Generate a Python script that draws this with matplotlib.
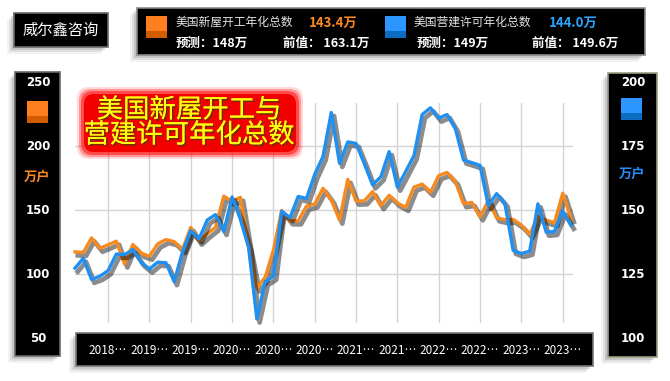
import matplotlib
matplotlib.use("Agg")
import matplotlib.pyplot as plt
import matplotlib.patheffects as pe
import pandas as pd
from matplotlib import transforms
from matplotlib.patches import Rectangle, FancyBboxPatch

plt.rcParams['font.family'] = ['Noto Sans CJK SC', 'DejaVu Sans']

# release month of each print, Jul 2018 .. Jul 2023
release = [str(p) for p in pd.period_range("2018-07", "2023-07", freq="M")]

# housing starts, annualised, 10k units (left axis)
starts = [117.3, 116.8, 128.2, 120.1, 122.8, 125.6, 107.8,
          123.0, 116.2, 113.9, 123.5, 126.9, 125.3, 119.1, 136.4, 125.6, 131.4, 136.5, 160.8,
          156.7, 159.9, 121.6, 89.1, 97.4, 118.6, 149.6, 141.6, 141.5, 153.0, 154.7, 166.9,
          158.0, 142.1, 173.9, 156.9, 157.2, 164.3, 153.4, 161.5, 155.5, 152.0, 167.9, 170.2,
          163.8, 176.9, 179.3, 172.4, 154.9, 155.9, 144.6, 157.5, 143.9, 142.5, 142.7, 138.2,
          130.9, 145.0, 142.0, 140.1, 163.1, 143.4]
# building permits, annualised, 10k units (right axis)
permits = [127.3, 131.1, 122.9, 124.1, 126.3, 132.8, 132.6,
           134.5, 129.6, 126.9, 129.6, 129.4, 122.0, 133.6, 141.9, 138.7, 146.1, 148.2, 141.6,
           155.1, 146.4, 135.3, 107.4, 122.0, 124.1, 149.5, 147.0, 155.3, 154.5, 163.9, 170.9,
           188.1, 168.2, 176.6, 176.0, 168.1, 159.8, 163.0, 172.8, 158.9, 165.0, 171.2, 187.3,
           189.9, 185.9, 187.3, 181.9, 169.5, 168.5, 167.4, 151.7, 156.4, 152.6, 134.2, 133.0,
           133.9, 152.4, 141.3, 141.6, 149.6, 144.0]

left_ticks = [250, 200, 150, 100, 50]
right_ticks = [200, 175, 150, 125, 100]
label_idx = list(range(4, 60, 5))

ORANGE = '#f68a1e'
BLUE = '#1f8ff0'

W, H = 670, 381
fig = plt.figure(figsize=(W / 100, H / 100), dpi=100)
fig.patch.set_facecolor('white')

# plot box in pixels
L, R, T, B = 75, 573, 103, 323
ppu = (338 - 82) / 200.0  # left axis px per unit
step = (571 - L) / (len(starts) - 1)

ax = fig.add_axes([L / W, 1 - B / H, (R - L) / W, (B - T) / H])
ax.set_xlim(0, (R - L) / step)
ax.set_ylim(50 + (338 - B) / ppu, 250 - (T - 82) / ppu)
ax2 = ax.twinx()
ax2.set_ylim(100 + (338 - B) / (2 * ppu), 200 - (T - 82) / (2 * ppu))

ax.set_yticks([100, 150, 200])
ax.set_xticks(label_idx)
ax.grid(True, color='#d4d4d4', lw=1)
for a in (ax, ax2):
    a.tick_params(length=0, labelleft=False, labelright=False, labelbottom=False)
    for s in a.spines.values():
        s.set_visible(False)
ax2.set_yticks([])
ax.set_axisbelow(True)

x = list(range(len(starts)))
shadow = [pe.SimpleLineShadow(offset=(2, -2.5), shadow_color='black', alpha=0.45, linewidth=3.4),
          pe.Normal()]
ax.plot(x, starts, color=ORANGE, lw=2.4, path_effects=shadow, clip_on=False, zorder=3)
ax2.plot(x, permits, color=BLUE, lw=2.4, path_effects=shadow, clip_on=False, zorder=4)

# overlay in pixel coords for boxes and labels
o = fig.add_axes([0, 0, 1, 1], zorder=5)
o.set_xlim(0, W)
o.set_ylim(H, 0)
o.axis('off')


def box(x0, y0, x1, y1, edge='#6a6a6a'):
    for k, a in ((7, .06), (5, .10), (3, .16)):
        o.add_patch(Rectangle((x0 - k, y0 + k), x1 - x0, y1 - y0, fc='#404040', ec='none', alpha=a))
    o.add_patch(Rectangle((x0, y0), x1 - x0, y1 - y0, fc='black', ec=edge, lw=1.2))


def swatch(x0, y0, c_top, c_bot):
    o.add_patch(Rectangle((x0, y0), 21, 15, fc=c_top, ec='none'))
    o.add_patch(Rectangle((x0, y0 + 15), 21, 7, fc=c_bot, ec='none'))


# brand box
box(14, 13, 108, 47)
o.text(61, 30, '威尔鑫咨询', color='white', fontsize=11, ha='center', va='center')

# legend box
box(137, 8, 645, 55, edge='#8a8a8a')
swatch(146, 16, '#ff7f1f', '#d45c00')
swatch(385, 16, '#2d95ff', '#0b6cc2')
o.text(176, 22.5, '美国新屋开工年化总数', color='#e4e4e4', fontsize=8.5, va='center')
o.text(309, 23, '143.4万', color='#ff8a1f', fontsize=9.5, weight='bold', va='center')
o.text(176, 43, '预测：148万', color='white', fontsize=9, weight='bold', va='center')
o.text(283, 43, '前值： 163.1万', color='white', fontsize=9, weight='bold', va='center')
o.text(414, 22.5, '美国营建许可年化总数', color='#e4e4e4', fontsize=8.5, va='center')
o.text(549, 23, '144.0万', color='#2aa6ff', fontsize=9.5, weight='bold', va='center')
o.text(417, 43, '预测：149万', color='white', fontsize=9, weight='bold', va='center')
o.text(532, 43, '前值： 149.6万', color='white', fontsize=9, weight='bold', va='center')

# side panels
box(15, 72, 60, 356)
box(608, 73, 657, 357, edge='#9c9c84')
tl = transforms.blended_transform_factory(o.transData, ax.transData)
tr = transforms.blended_transform_factory(o.transData, ax2.transData)
for v in left_ticks:
    o.text(38, v, str(v), transform=tl, color='white', fontsize=8.5, weight='bold',
           family='DejaVu Sans', ha='center', va='center')
for v in right_ticks:
    o.text(633, v, str(v), transform=tr, color='white', fontsize=8.5, weight='bold',
           family='DejaVu Sans', ha='center', va='center')
swatch(27, 101, '#ff7f1f', '#d45c00')
swatch(621, 98, '#2d95ff', '#0b6cc2')
o.text(37, 177, '万户', color='#ff8a1f', fontsize=9.5, weight='bold', ha='center', va='center')
o.text(632, 174, '万户', color='#2a8cff', fontsize=9.5, weight='bold', ha='center', va='center')

# bottom category bar
box(76, 333, 593, 366, edge='#777777')
tb = transforms.blended_transform_factory(ax.transData, o.transData)
for i in label_idx:
    o.text(i, 351, release[i][:4] + '⋯', transform=tb, color='white', fontsize=8.5,
           ha='center', va='center')

# title badge
o.add_patch(FancyBboxPatch((90, 100), 205, 50, boxstyle='round,pad=0,rounding_size=10',
                           fc='#303030', ec='none', alpha=0.35))
for pad, a in ((9, .15), (7, .3), (5, .5)):
    o.add_patch(FancyBboxPatch((84 - pad + 2, 94 - pad + 2), 212 + 2 * pad - 4, 58 + 2 * pad - 4,
                               boxstyle='round,pad=0,rounding_size=12', fc='#ff0000', ec='none', alpha=a))
o.add_patch(FancyBboxPatch((84, 94), 212, 58, boxstyle='round,pad=0,rounding_size=10',
                           fc='#f20000', ec='none'))
tfx = [pe.withSimplePatchShadow(offset=(1.2, -1.2), shadow_rgbFace='#6a3000', alpha=0.9), pe.Normal()]
o.text(189, 110, '美国新屋开工与', color='#ffff10', fontsize=19, ha='center', va='center',
       path_effects=tfx)
o.text(189, 135, '营建许可年化总数', color='#ffff10', fontsize=19, ha='center', va='center',
       path_effects=tfx)

fig.savefig('out.png', dpi=100)
